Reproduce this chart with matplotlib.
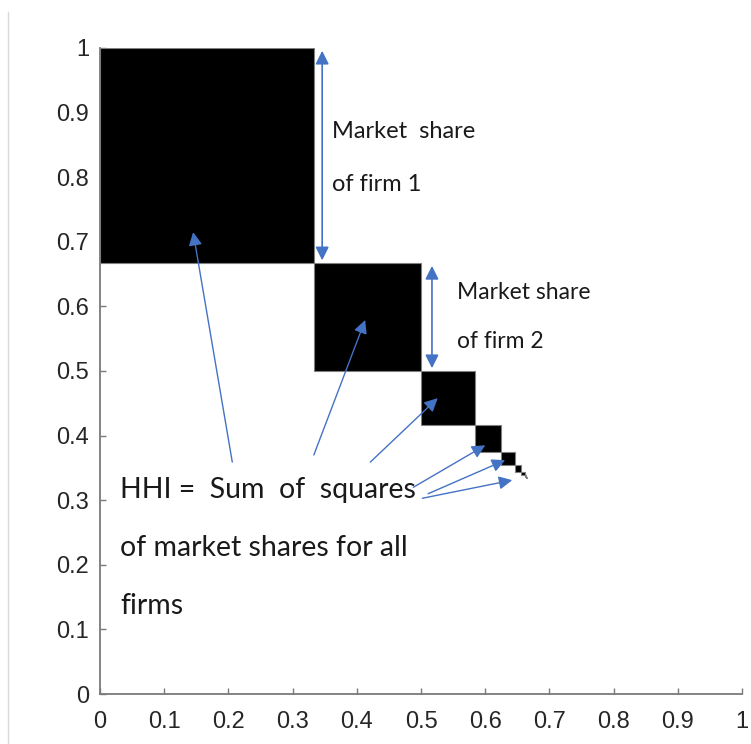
import numpy as np
import matplotlib
matplotlib.use("Agg")
import matplotlib.pyplot as plt
from matplotlib.lines import Line2D

# Market shares of successive firms (each half of the previous)
shares = [0.33333, 0.16667, 0.08333, 0.04167, 0.02083, 0.01042, 0.00521, 0.00260, 0.00130]
ticks = [0, 0.1, 0.2, 0.3, 0.4, 0.5, 0.6, 0.7, 0.8, 0.9, 1]
tick_labels = ["0", "0.1", "0.2", "0.3", "0.4", "0.5", "0.6", "0.7", "0.8", "0.9", "1"]

shares_arr = np.array(shares)
starts = np.concatenate([[0], np.cumsum(shares_arr)[:-1]])

fig = plt.figure(figsize=(7.51, 7.44), dpi=100)
ax = fig.add_axes([0.1332, 0.0672, 0.8549, 0.8683])

ax.bar(starts, shares_arr, width=shares_arr, bottom=1 - starts - shares_arr,
       align="edge", color="black", edgecolor="#808080", linewidth=0.8, zorder=2)

ax.set_xlim(0, 1)
ax.set_ylim(0, 1)
ax.set_xticks(ticks)
ax.set_xticklabels(tick_labels, fontsize=17, family="Liberation Sans", color="#262626")
ax.set_yticks(ticks)
ax.set_yticklabels(tick_labels, fontsize=17, family="Liberation Sans", color="#262626")
for s in ["top", "right"]:
    ax.spines[s].set_visible(False)
for s in ["left", "bottom"]:
    ax.spines[s].set_color("#7a7a7a")
    ax.spines[s].set_linewidth(1.3)
ax.tick_params(direction="in", length=4, width=1, color="#7a7a7a")
ax.tick_params(axis="x", pad=12)
ax.tick_params(axis="y", pad=8)

blue = "#4472C4"
tfont = dict(family="Lato", color="#1a1a1a")

# double-headed arrows
ax.annotate("", xy=(0.346, 1.0), xytext=(0.346, 0.667),
            arrowprops=dict(arrowstyle="<|-|>", color=blue, lw=1.2, mutation_scale=20), zorder=3)
ax.annotate("", xy=(0.517, 0.667), xytext=(0.517, 0.500),
            arrowprops=dict(arrowstyle="<|-|>", color=blue, lw=1.2, mutation_scale=20), zorder=3)

# single arrows from text to squares
arrows = [((0.206, 0.359), (0.145, 0.715)),
          ((0.333, 0.370), (0.413, 0.579)),
          ((0.421, 0.359), (0.526, 0.458)),
          ((0.488, 0.320), (0.600, 0.385)),
          ((0.511, 0.310), (0.631, 0.362)),
          ((0.502, 0.303), (0.642, 0.331))]
for tail, head in arrows:
    ax.annotate("", xy=head, xytext=tail,
                arrowprops=dict(arrowstyle="-|>", color=blue, lw=1.0, mutation_scale=20,
                                shrinkA=0, shrinkB=0), zorder=3)

ax.text(0.361, 0.871, "Market  share", fontsize=17, va="center", **tfont)
ax.text(0.361, 0.788, "of firm 1", fontsize=17, va="center", **tfont)
ax.text(0.556, 0.622, "Market share", fontsize=16.5, va="center", **tfont)
ax.text(0.556, 0.545, "of firm 2", fontsize=16.5, va="center", **tfont)

ax.text(0.031, 0.316, "HHI =  Sum  of  squares", fontsize=20.5, va="center", **tfont)
ax.text(0.031, 0.226, "of market shares for all", fontsize=20.5, va="center", **tfont)
ax.text(0.031, 0.136, "firms", fontsize=20.5, va="center", **tfont)

fig.add_artist(Line2D([0.0107, 0.0107], [0.0, 0.984], transform=fig.transFigure,
                      color="#d9d9d9", lw=1))

fig.savefig("out.png", dpi=100)
